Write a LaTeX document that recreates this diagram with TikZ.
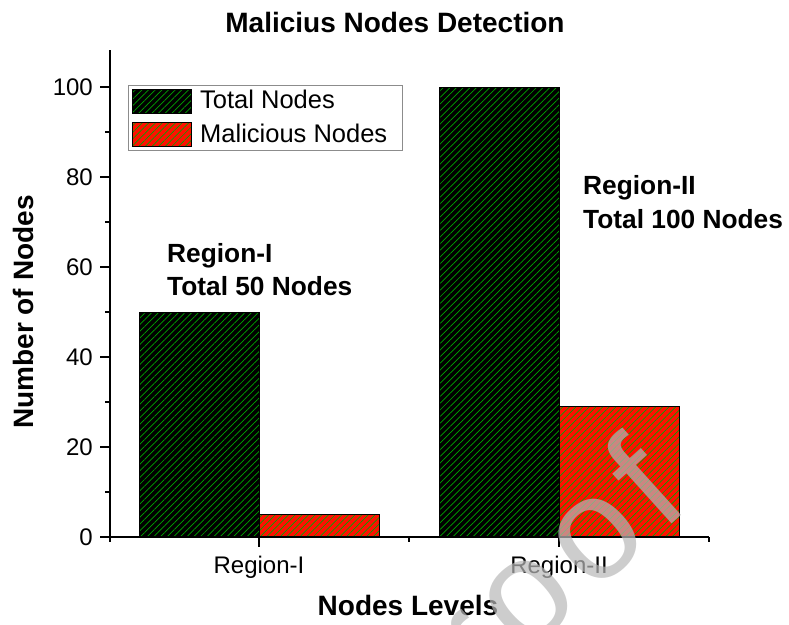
\documentclass[tikz,border=0pt]{standalone}
\usepackage{fontspec}
\setmainfont{Liberation Sans}
\usetikzlibrary{patterns.meta}

\definecolor{malred}{RGB}{255,16,0}
\definecolor{hatchgreen}{RGB}{0,165,0}
\definecolor{legendframe}{RGB}{140,140,140}
\definecolor{wmark}{RGB}{184,184,184}

\tikzset{
  barbox/.style={draw=black, line width=0.9pt, preaction={fill=#1},
    pattern={Lines[angle=45,distance=4.7pt,line width=0.7pt]},
    pattern color=hatchgreen},
  axisline/.style={line width=1.2pt, black},
  ticklabel/.style={font=\fontsize{24}{28}\selectfont, inner sep=0pt},
  legendtext/.style={font=\fontsize{25.5}{30}\selectfont, inner sep=0pt, anchor=base west},
  boldlabel/.style={font=\fontsize{28}{32}\selectfont\bfseries, inner sep=0pt},
  annot/.style={font=\fontsize{26.3}{34}\selectfont\bfseries, inner sep=0pt, anchor=base west},
}

\newcommand{\wmgap}{\hspace{12pt}}

\begin{document}
\begin{tikzpicture}[x=1pt,y=-1pt]
\useasboundingbox (0,0) rectangle (789,624);

% value v sits at y = 537 - 4.5 v
\coordinate (origin) at (110,537);
\coordinate (ytop) at (110,50);
\coordinate (xend) at (709,537);

% bars
\draw[barbox=black]  (139,537) rectangle (259,312);
\draw[barbox=malred] (259,537) rectangle (379,514.5);
\draw[barbox=black]  (439,537) rectangle (559,87);
\draw[barbox=malred] (559,537) rectangle (679,406.5);

% axes
\draw[axisline] (ytop) -- (110,542);
\draw[axisline] (origin) -- (xend);

% y ticks and labels
\foreach \v in {0,20,...,100} {
  \draw[axisline] (110,{537-4.5*\v}) -- (100,{537-4.5*\v});
  \node[ticklabel, anchor=east] at (93,{537-4.5*\v}) {\v};
}
\foreach \v in {10,30,...,90}
  \draw[axisline] (110,{537-4.5*\v}) -- (105,{537-4.5*\v});

% x ticks and labels
\draw[axisline] (259,537) -- (259,547);
\draw[axisline] (559,537) -- (559,547);
\draw[axisline] (409,537) -- (409,542);
\draw[axisline] (709,537) -- (709,542);
\node[ticklabel, anchor=base] (r1) at (259,573) {Region-I};
\node[ticklabel, anchor=base] (r2) at (559,573) {Region-II};

% titles
\node[boldlabel, anchor=base] (title) at (395,32) {Malicius Nodes Detection};
\node[boldlabel, anchor=base] (xlabel) at (408,615) {Nodes Levels};
\node[boldlabel, anchor=base, rotate=90] (ylabel) at (33,312) {Number of Nodes};

% annotations
\node[annot] (a1) at (167,262) {Region-I};
\node[annot] (a2) at (167,295) {Total 50 Nodes};
\node[annot] (b1) at (583,194) {Region-II};
\node[annot] (b2) at (583,228) {Total 100 Nodes};

% legend
\draw[legendframe, line width=1pt, fill=white] (128,85) rectangle (402,150);
\draw[barbox=black]  (132,89)  rectangle (191,113);
\draw[barbox=malred] (132,122) rectangle (191,146);
\node[legendtext] (l1) at (200,108) {Total Nodes};
\node[legendtext] (l2) at (200,142) {Malicious Nodes};

% watermark
\node[anchor=base west, rotate=42, inner sep=0pt, text=wmark, opacity=0.7,
      font=\fontsize{145}{145}\selectfont] (wm) at (399,770)
      {P\wmgap r\wmgap o\wmgap o\wmgap f};
\end{tikzpicture}
\end{document}
